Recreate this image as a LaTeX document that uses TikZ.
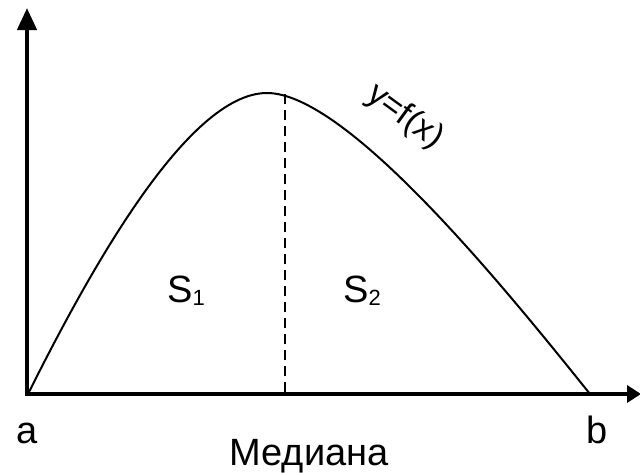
\documentclass[tikz,border=0pt]{standalone}
\usepackage{fontspec}
\setmainfont{Liberation Sans}
\usetikzlibrary{arrows.meta}
\begin{document}
\begin{tikzpicture}[x=1pt,y=-1pt,
  axisline/.style={line width=4.5pt},
  curveline/.style={line width=2pt},
  medline/.style={line width=2pt,dash pattern=on 10pt off 6pt},
  lbl/.style={inner sep=0pt,font=\fontsize{38}{40}\selectfont}]
\useasboundingbox[fill=white] (0,0) rectangle (640,472);
\coordinate (O) at (27,394);
\coordinate (Ytop) at (27,8);
\coordinate (Xend) at (641,394);
\coordinate (A) at (28,394);
\coordinate (P) at (267,93);
\coordinate (B) at (590,394);
\coordinate (Mtop) at (285,94);
\coordinate (Mbot) at (285,394);
\draw[axisline,-{Triangle[length=22pt,width=19pt]}] (O) -- (Ytop);
\draw[axisline,-{Triangle[length=14pt,width=17pt]}] ([xshift=-2.25pt]O) -- (Xend);
\draw[curveline] (A) .. controls (88,274) and (187,93) .. (P)
  .. controls (347,93) and (505,288) .. (B);
\draw[medline] (Mtop) -- (Mbot);
\node[lbl,anchor=base] (la) at (27,443) {a};
\node[lbl,anchor=base] (lb) at (597,443) {b};
\node[lbl,anchor=base] (lmed) at (309,465) {Медиана};
\node[lbl,anchor=base west] (s1) at (167,302) {S\raisebox{-3pt}{\fontsize{22}{22}\selectfont 1}};
\node[lbl,anchor=base west] (s2) at (343,302) {S\raisebox{-3pt}{\fontsize{22}{22}\selectfont 2}};
\node[lbl,rotate=-36,font=\fontsize{34}{36}\selectfont] (fx) at (405,117) {y=f(x)};
\end{tikzpicture}
\end{document}
